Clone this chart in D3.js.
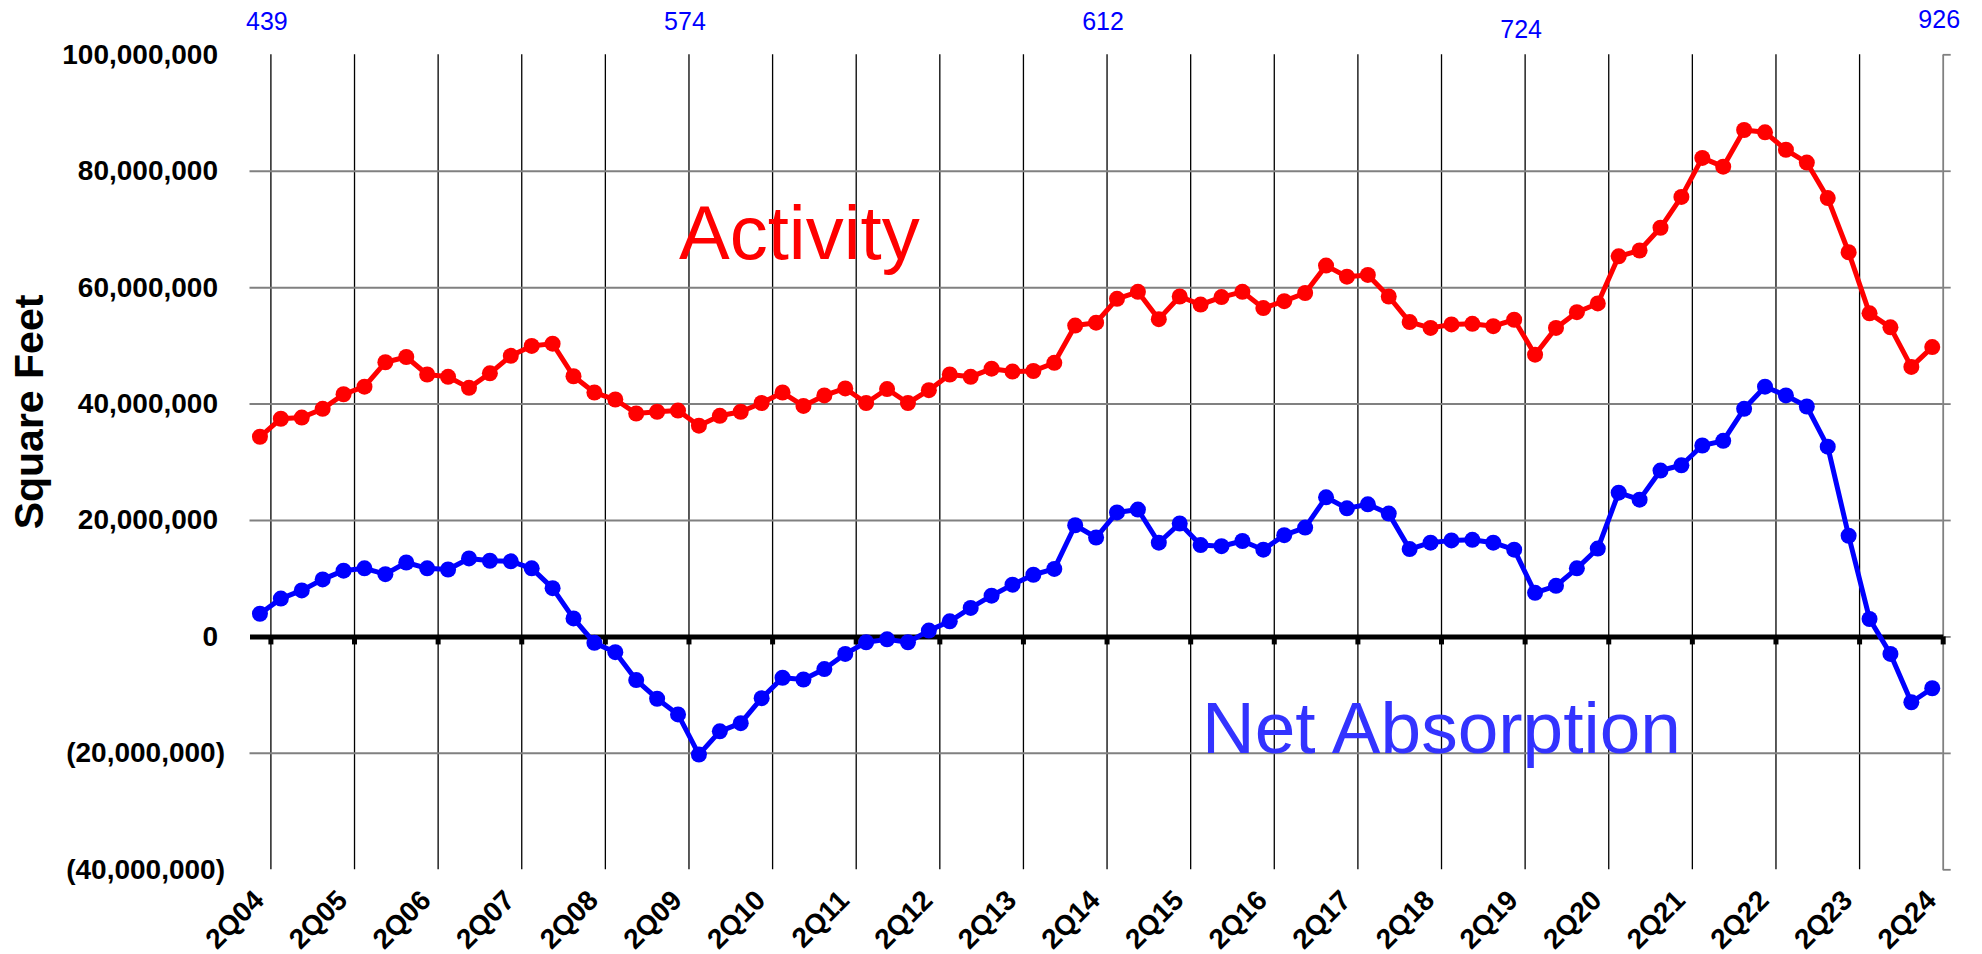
<!DOCTYPE html>
<html>
<head>
<meta charset="utf-8">
<script src="https://cdn.jsdelivr.net/npm/d3@7"></script>
<style>
html, body { margin: 0; padding: 0; background: #fff; }
svg { display: block; }
</style>
</head>
<body>
<svg id="chart" width="1982" height="954"></svg>
<script>
// ---------------- DATA ----------------
const quarters = [
  "2Q04","3Q04","4Q04",
  "1Q05","2Q05","3Q05","4Q05",
  "1Q06","2Q06","3Q06","4Q06",
  "1Q07","2Q07","3Q07","4Q07",
  "1Q08","2Q08","3Q08","4Q08",
  "1Q09","2Q09","3Q09","4Q09",
  "1Q10","2Q10","3Q10","4Q10",
  "1Q11","2Q11","3Q11","4Q11",
  "1Q12","2Q12","3Q12","4Q12",
  "1Q13","2Q13","3Q13","4Q13",
  "1Q14","2Q14","3Q14","4Q14",
  "1Q15","2Q15","3Q15","4Q15",
  "1Q16","2Q16","3Q16","4Q16",
  "1Q17","2Q17","3Q17","4Q17",
  "1Q18","2Q18","3Q18","4Q18",
  "1Q19","2Q19","3Q19","4Q19",
  "1Q20","2Q20","3Q20","4Q20",
  "1Q21","2Q21","3Q21","4Q21",
  "1Q22","2Q22","3Q22","4Q22",
  "1Q23","2Q23","3Q23","4Q23",
  "1Q24","2Q24"
];

// Millions of square feet
const activity = [
  34.3, 37.4, 37.6, 39.1, 41.6, 42.9, 47.1, 48.0, 45.0, 44.6,
  42.7, 45.2, 48.2, 49.9, 50.3, 44.7, 41.9, 40.7, 38.3, 38.6,
  38.8, 36.2, 37.9, 38.6, 40.1, 41.9, 39.6, 41.4, 42.6, 40.1,
  42.5, 40.1, 42.3, 45.0, 44.6, 46.0, 45.5, 45.6, 47.0, 53.4,
  53.9, 58.0, 59.2, 54.5, 58.4, 57.0, 58.3, 59.2, 56.4, 57.6,
  59.0, 63.7, 61.8, 62.1, 58.4, 54.0, 53.0, 53.6, 53.7, 53.3,
  54.4, 48.4, 53.0, 55.7, 57.2, 65.3, 66.3, 70.2, 75.5, 82.2,
  80.7, 87.0, 86.6, 83.6, 81.4, 75.3, 66.0, 55.5, 53.1, 46.3,
  49.7
];

const netAbsorption = [
  3.9, 6.5, 7.9, 9.8, 11.3, 11.7, 10.7, 12.7, 11.7, 11.5,
  13.4, 13.0, 12.9, 11.7, 8.3, 3.1, -1.1, -2.7, -7.5, -10.7,
  -13.4, -20.3, -16.3, -14.9, -10.6, -7.1, -7.4, -5.6, -3.0, -1.0,
  -0.5, -1.0, 1.0, 2.6, 4.9, 7.0, 8.9, 10.6, 11.6, 19.1,
  17.0, 21.3, 21.8, 16.1, 19.4, 15.7, 15.5, 16.4, 14.9, 17.4,
  18.7, 23.9, 22.0, 22.7, 21.1, 15.0, 16.1, 16.5, 16.6, 16.1,
  14.9, 7.5, 8.7, 11.7, 15.1, 24.7, 23.5, 28.5, 29.4, 32.8,
  33.6, 39.1, 42.9, 41.4, 39.5, 32.6, 17.3, 3.0, -3.0, -11.3,
  -8.9
];

const yearTicks = [
  "2Q04","2Q05","2Q06","2Q07","2Q08","2Q09","2Q10","2Q11","2Q12","2Q13",
  "2Q14","2Q15","2Q16","2Q17","2Q18","2Q19","2Q20","2Q21","2Q22","2Q23","2Q24"
];

const yTickValues = [-40000000, -20000000, 0, 20000000, 40000000, 60000000, 80000000, 100000000];
const gridValues = [-20000000, 20000000, 40000000, 60000000, 80000000];

const noteQuarters = ["2Q04","2Q09","2Q14","2Q19","2Q24"];
const noteValues = [439, 574, 612, 724, 926];

const seriesNames = ["Activity", "Net Absorption"];

// ---------------- LAYOUT ----------------
const FONT = "'Liberation Sans', Arial, Helvetica, sans-serif";
const L = 249.5, R = 1942.7, T = 54.3, B = 869.3;
const noteBaseline = [30, 30, 30, 38, 28];

const svg = d3.select("#chart");
svg.append("rect").attr("width", 1982).attr("height", 954).attr("fill", "#fff");

const x = d3.scaleLinear().domain([0, quarters.length]).range([L, R]);
const y = d3.scaleLinear().domain([-40000000, 100000000]).range([B, T]);
const px = i => x(i + 0.5);
const gridIdx = yearTicks.map(t => quarters.indexOf(t) + 1);

// vertical gridlines
svg.append("g")
  .attr("transform", `translate(0,${B})`)
  .call(d3.axisBottom(x).tickValues(gridIdx.slice(0, -1)).tickSize(-(B - T)).tickFormat(""))
  .call(g => g.select(".domain").remove())
  .call(g => g.selectAll(".tick line").attr("stroke", "#000").attr("stroke-width", 1.3));

// horizontal gridlines
svg.append("g")
  .attr("transform", `translate(${L},0)`)
  .call(d3.axisLeft(y).tickValues(gridValues).tickSize(-(R - L)).tickFormat(""))
  .call(g => g.select(".domain").remove())
  .call(g => g.selectAll(".tick line").attr("stroke", "#808080").attr("stroke-width", 2));

// right axis
svg.append("g")
  .attr("transform", `translate(${R},0)`)
  .call(d3.axisRight(y).tickValues(yTickValues).tickSize(8).tickSizeOuter(0).tickFormat(""))
  .call(g => g.selectAll("path, line").attr("stroke", "#808080").attr("stroke-width", 1.8));

// zero axis (thick)
svg.append("g")
  .attr("transform", `translate(0,${y(0)})`)
  .call(d3.axisBottom(x).tickValues(gridIdx).tickSize(8).tickSizeOuter(0).tickFormat(""))
  .call(g => g.select(".domain").attr("stroke", "#000").attr("stroke-width", 5))
  .call(g => g.selectAll(".tick line").attr("stroke", "#000").attr("stroke-width", 5));

// y tick labels
const fmt = d3.format(",");
svg.append("g")
  .attr("transform", `translate(${L},0)`)
  .call(d3.axisLeft(y).tickValues(yTickValues).tickSize(0).tickPadding(L - 225)
    .tickFormat(v => v < 0 ? `(${fmt(-v)})` : fmt(v)))
  .call(g => g.select(".domain").remove())
  .attr("font-family", FONT).attr("font-size", 28).attr("font-weight", "bold")
  .call(g => g.selectAll("text").attr("fill", "#000").attr("dx", d => d >= 0 ? -7 : 0));

// x tick labels
svg.append("g")
  .attr("transform", `translate(0,902)`)
  .call(d3.axisBottom(x).tickValues(gridIdx).tickSize(0).tickFormat(i => quarters[i - 1]))
  .call(g => g.select(".domain").remove())
  .attr("font-family", FONT).attr("font-size", 28).attr("font-weight", "bold")
  .call(g => g.selectAll("text")
    .attr("fill", "#000").attr("y", 0).attr("dy", 0).attr("x", 0)
    .attr("text-anchor", "end")
    .attr("transform", "translate(-5.5,0) rotate(-45)"));

// y axis title
svg.append("text")
  .attr("transform", "translate(43,412) rotate(-90)")
  .attr("text-anchor", "middle")
  .attr("font-family", FONT).attr("font-size", 41).attr("font-weight", "bold")
  .attr("fill", "#000")
  .text("Square Feet");

// series
const series = [
  { name: seriesNames[0], values: activity, color: "#FF0000" },
  { name: seriesNames[1], values: netAbsorption, color: "#0000FF" }
];
const line = d3.line().x((d, i) => px(i)).y(d => y(d * 1e6));
series.forEach(s => {
  const g = svg.append("g");
  g.append("path").datum(s.values)
    .attr("d", line).attr("fill", "none")
    .attr("stroke", s.color).attr("stroke-width", 5).attr("stroke-linejoin", "round");
  g.selectAll("circle").data(s.values).join("circle")
    .attr("cx", (d, i) => px(i)).attr("cy", d => y(d * 1e6))
    .attr("r", 8).attr("fill", s.color);
});

// series labels
svg.append("text")
  .attr("x", 679).attr("y", 258.5)
  .attr("font-family", FONT).attr("font-size", 76)
  .attr("fill", "#FF0000").text(seriesNames[0]);
svg.append("text")
  .attr("x", 1202).attr("y", 753)
  .attr("font-family", FONT).attr("font-size", 73)
  .attr("fill", "#3333FF").text(seriesNames[1]);

// top notes
svg.append("g").selectAll("text").data(noteValues).join("text")
  .attr("x", (d, i) => x(quarters.indexOf(noteQuarters[i]) + 1) - 3.5)
  .attr("y", (d, i) => noteBaseline[i])
  .attr("text-anchor", "middle")
  .attr("font-family", FONT).attr("font-size", 25)
  .attr("fill", "#0000FF")
  .text(d => d);
</script>
</body>
</html>
